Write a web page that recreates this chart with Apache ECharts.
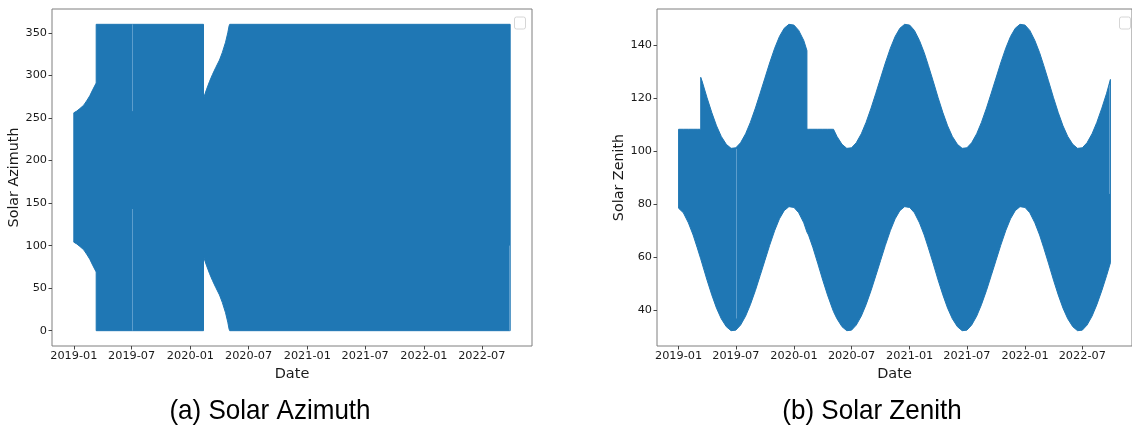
<!DOCTYPE html>
<html>
<head>
<meta charset="utf-8">
<script src="https://cdn.jsdelivr.net/npm/echarts@6/dist/echarts.min.js"></script>
<style>
  html, body { margin: 0; padding: 0; background: #ffffff; }
  #chart { width: 1132px; height: 428px; }
</style>
</head>
<body>
<div id="chart"></div>
<script>
// ---- Solar azimuth: daily swing shown as its lower / upper envelope (degrees)
const azDates = [
  '2019-01-01', '2019-01-10', '2019-01-20', '2019-02-01', '2019-02-10', '2019-02-20', '2019-03-01', '2019-03-12',
  '2019-03-12', '2020-02-11',
  '2020-02-11', '2020-02-20', '2020-03-01', '2020-03-10', '2020-03-20', '2020-04-01', '2020-04-10', '2020-04-20',
  '2020-04-27', '2020-05-01', '2020-05-03',
  '2022-09-28'
];
const azLow = [
  104, 102, 99, 95, 90, 84, 77, 69,
  0, 0,
  87, 77, 67, 59, 51, 42, 33, 21,
  10, 2, 0,
  0
];
const azHigh = [
  256, 258, 261, 265, 270, 276, 283, 291,
  360, 360,
  273, 283, 293, 301, 309, 318, 327, 339,
  350, 358, 360,
  360
];
// days with sparse samples (thin lighter strokes inside the band)
const azGapDates = ['2019-07-01', '2019-07-01', '2022-09-24'];
const azGapLow = [0, 258, 0];
const azGapHigh = [143, 360, 100];

// ---- Solar zenith: daily swing shown as its lower / upper envelope (degrees)
const zenDates = [
  '2019-01-01', '2019-01-16', '2019-02-01', '2019-02-16', '2019-03-01', '2019-03-12',
  '2019-03-12', '2019-03-16', '2019-04-01', '2019-04-16', '2019-05-01', '2019-05-16',
  '2019-06-01', '2019-06-16', '2019-07-01', '2019-07-16', '2019-08-01', '2019-08-16',
  '2019-09-01', '2019-09-16', '2019-10-01', '2019-10-16', '2019-11-01', '2019-11-16',
  '2019-12-01', '2019-12-16',
  '2020-01-01', '2020-01-16', '2020-02-01', '2020-02-11',
  '2020-02-11', '2020-02-16', '2020-03-01', '2020-03-16', '2020-04-01', '2020-04-16',
  '2020-05-01', '2020-05-05', '2020-05-16',
  '2020-06-01', '2020-06-16', '2020-07-01', '2020-07-16', '2020-08-01', '2020-08-16',
  '2020-09-01', '2020-09-16', '2020-10-01', '2020-10-16', '2020-11-01', '2020-11-16',
  '2020-12-01', '2020-12-16',
  '2021-01-01', '2021-01-16', '2021-02-01', '2021-02-16', '2021-03-01', '2021-03-16',
  '2021-04-01', '2021-04-16', '2021-05-01', '2021-05-16', '2021-06-01', '2021-06-16',
  '2021-07-01', '2021-07-16', '2021-08-01', '2021-08-16', '2021-09-01', '2021-09-16',
  '2021-10-01', '2021-10-16', '2021-11-01', '2021-11-16', '2021-12-01', '2021-12-16',
  '2022-01-01', '2022-01-16', '2022-02-01', '2022-02-16', '2022-03-01', '2022-03-16',
  '2022-04-01', '2022-04-16', '2022-05-01', '2022-05-16', '2022-06-01', '2022-06-16',
  '2022-07-01', '2022-07-16', '2022-08-01', '2022-08-16', '2022-09-01', '2022-09-16',
  '2022-09-28'
];
const zenLow = [
  78.6, 76.9, 73.1, 68.5, 63.7, 59.5,
  59.5, 57.9, 51.5, 45.9, 40.9, 36.9,
  33.9, 32.4, 32.6, 34.5, 37.9, 42.2,
  47.6, 53.2, 58.9, 64.6, 70.2, 74.6,
  77.7, 79.2,
  78.9, 76.9, 73.1, 69.6,
  69.6, 68.5, 63.7, 57.9, 51.5, 45.9,
  40.9, 39.6, 36.9,
  33.9, 32.4, 32.6, 34.5, 37.9, 42.2,
  47.6, 53.2, 58.9, 64.6, 70.2, 74.6,
  77.7, 79.2,
  78.9, 76.9, 73.1, 68.5, 63.7, 57.9,
  51.5, 45.9, 40.9, 36.9, 33.9, 32.4,
  32.6, 34.5, 37.9, 42.2, 47.6, 53.2,
  58.9, 64.6, 70.2, 74.6, 77.7, 79.2,
  78.9, 76.9, 73.1, 68.5, 63.7, 57.9,
  51.5, 45.9, 40.9, 36.9, 33.9, 32.4,
  32.6, 34.5, 37.9, 42.2, 47.6, 53.2,
  58.0
];
const zenHigh = [
  108.4, 108.4, 108.4, 108.4, 108.4, 108.4,
  128.0, 126.7, 120.3, 114.7, 109.7, 105.7,
  102.7, 101.2, 101.4, 103.3, 106.7, 111.0,
  116.4, 122.0, 127.7, 133.4, 139.0, 143.4,
  146.5, 148.0,
  147.7, 145.7, 141.9, 138.1,
  108.4, 108.4, 108.4, 108.4, 108.4, 108.4,
  108.4, 108.4, 105.7,
  102.7, 101.2, 101.4, 103.3, 106.7, 111.0,
  116.4, 122.0, 127.7, 133.4, 139.0, 143.4,
  146.5, 148.0,
  147.7, 145.7, 141.9, 137.3, 132.5, 126.7,
  120.3, 114.7, 109.7, 105.7, 102.7, 101.2,
  101.4, 103.3, 106.7, 111.0, 116.4, 122.0,
  127.7, 133.4, 139.0, 143.4, 146.5, 148.0,
  147.7, 145.7, 141.9, 137.3, 132.5, 126.7,
  120.3, 114.7, 109.7, 105.7, 102.7, 101.2,
  101.4, 103.3, 106.7, 111.0, 116.4, 122.0,
  127.2
];
const zenGapDates = ['2019-07-02', '2022-09-24'];
const zenGapLow = [37, 84];
const zenGapHigh = [101, 125];

// ---- Tick labels
const dateTicks = ['2019-01-01', '2019-07-01', '2020-01-01', '2020-07-01',
                   '2021-01-01', '2021-07-01', '2022-01-01', '2022-07-01'];
const azTicks = [0, 50, 100, 150, 200, 250, 300, 350];
const zenTicks = [40, 60, 80, 100, 120, 140];

const titles = ['(a) Solar Azimuth', '(b) Solar Zenith'];
const yNames = ['Solar Azimuth', 'Solar Zenith'];

// ---- Drawing
const BLUE = '#1f77b4';
const GAP_BLUE = '#5c9dcc';
const FRAME = '#7f7f7f';
const TEXT = '#1a1a1a';
const FONT = '"DejaVu Sans", sans-serif';

const toMs = s => Date.parse(s + 'T00:00:00Z');
const tickMs = dateTicks.map(toMs);
const pad2 = n => (n < 10 ? '0' : '') + n;
const fmtMonth = v => { const d = new Date(v); return d.getUTCFullYear() + '-' + pad2(d.getUTCMonth() + 1); };

// axis limits with a 5% margin around the data, like the usual autoscale
function limits(vals) {
  const lo = Math.min.apply(null, vals), hi = Math.max.apply(null, vals);
  const m = (hi - lo) * 0.05;
  return [lo - m, hi + m];
}
const xLim = limits([toMs(azDates[0]), toMs(azDates[azDates.length - 1])]);
const azLim = limits(azLow.concat(azHigh));
const zenLim = limits(zenLow.concat(zenHigh));

const grids = [
  { left: 52, top: 9, width: 480, height: 337 },
  { left: 657, top: 9, width: 480, height: 337 }
];

// filled envelope between the low and high curves
function bandSeries(dates, low, high, idx) {
  const xs = dates.map(toMs);
  return {
    type: 'custom',
    xAxisIndex: idx,
    yAxisIndex: idx,
    silent: true,
    clip: true,
    encode: { x: 0, y: [1, 2] },
    data: xs.map((x, i) => [x, low[i], high[i]]),
    renderItem(params, api) {
      if (params.dataIndexInside !== 0) return null;
      const pts = [];
      for (let i = 0; i < xs.length; i++) pts.push(api.coord([xs[i], high[i]]));
      for (let i = xs.length - 1; i >= 0; i--) pts.push(api.coord([xs[i], low[i]]));
      return {
        type: 'polygon',
        shape: { points: pts },
        style: { fill: BLUE, stroke: BLUE, lineWidth: 1 }
      };
    }
  };
}

// thin lighter strokes where the daily samples are sparse
function gapSeries(dates, low, high, idx) {
  return {
    type: 'custom',
    xAxisIndex: idx,
    yAxisIndex: idx,
    silent: true,
    z: 3,
    encode: { x: 0, y: [1, 2] },
    data: dates.map((d, i) => [toMs(d), low[i], high[i]]),
    renderItem(params, api) {
      const a = api.coord([api.value(0), api.value(1)]);
      const b = api.coord([api.value(0), api.value(2)]);
      const x = Math.round(a[0]) + 0.5;
      return {
        type: 'line',
        shape: { x1: x, y1: a[1], x2: x, y2: b[1] },
        style: { stroke: GAP_BLUE, lineWidth: 1 }
      };
    }
  };
}

function xAxisFor(idx) {
  return {
    type: 'value', gridIndex: idx, min: xLim[0], max: xLim[1],
    name: 'Date', nameLocation: 'middle', nameGap: 17,
    nameTextStyle: { fontFamily: FONT, fontSize: 14.5, color: TEXT },
    axisLine: { show: false, onZero: false },
    splitLine: { show: false },
    axisTick: { show: true, length: 3.5, lineStyle: { color: '#444', width: 1 }, customValues: tickMs },
    axisLabel: { customValues: tickMs, formatter: fmtMonth, margin: 5,
                 fontFamily: FONT, fontSize: 11.3, color: TEXT }
  };
}

function yAxisFor(idx, lim, ticks) {
  return {
    type: 'value', gridIndex: idx, min: lim[0], max: lim[1],
    name: yNames[idx], nameLocation: 'middle', nameGap: 24, nameRotate: 90,
    nameTextStyle: { fontFamily: FONT, fontSize: 14.3, color: TEXT },
    axisLine: { show: false, onZero: false },
    splitLine: { show: false },
    axisTick: { show: true, length: 3.5, lineStyle: { color: '#444', width: 1 }, customValues: ticks },
    axisLabel: { customValues: ticks, margin: 5, fontFamily: FONT, fontSize: 11.3, color: TEXT }
  };
}

const chart = echarts.init(document.getElementById('chart'), null, { renderer: 'canvas' });

const legendBoxes = grids.map(g => ({
  type: 'rect',
  shape: { x: g.left + g.width - 17.5, y: g.top + 8, width: 11, height: 12, r: 2 },
  style: { fill: '#ffffff', stroke: '#d6d6d6', lineWidth: 1 },
  z: 10
}));

const captions = [
  { x: 270, text: titles[0] },
  { x: 872, text: titles[1] }
].map(c => ({
  type: 'text',
  x: c.x, y: 411,
  scaleX: 0.93,
  style: { text: c.text, fontFamily: '"Liberation Sans", Arial, sans-serif', fontSize: 28,
           fill: '#000', align: 'center', verticalAlign: 'middle' }
}));

chart.setOption({
  animation: false,
  backgroundColor: '#ffffff',
  grid: grids.map(g => Object.assign({ show: true, borderColor: FRAME, borderWidth: 1,
                                        backgroundColor: 'transparent' }, g)),
  xAxis: [xAxisFor(0), xAxisFor(1)],
  yAxis: [yAxisFor(0, azLim, azTicks), yAxisFor(1, zenLim, zenTicks)],
  series: [
    bandSeries(azDates, azLow, azHigh, 0),
    bandSeries(zenDates, zenLow, zenHigh, 1),
    gapSeries(azGapDates, azGapLow, azGapHigh, 0),
    gapSeries(zenGapDates, zenGapLow, zenGapHigh, 1)
  ],
  graphic: legendBoxes.concat(captions)
});
</script>
</body>
</html>
